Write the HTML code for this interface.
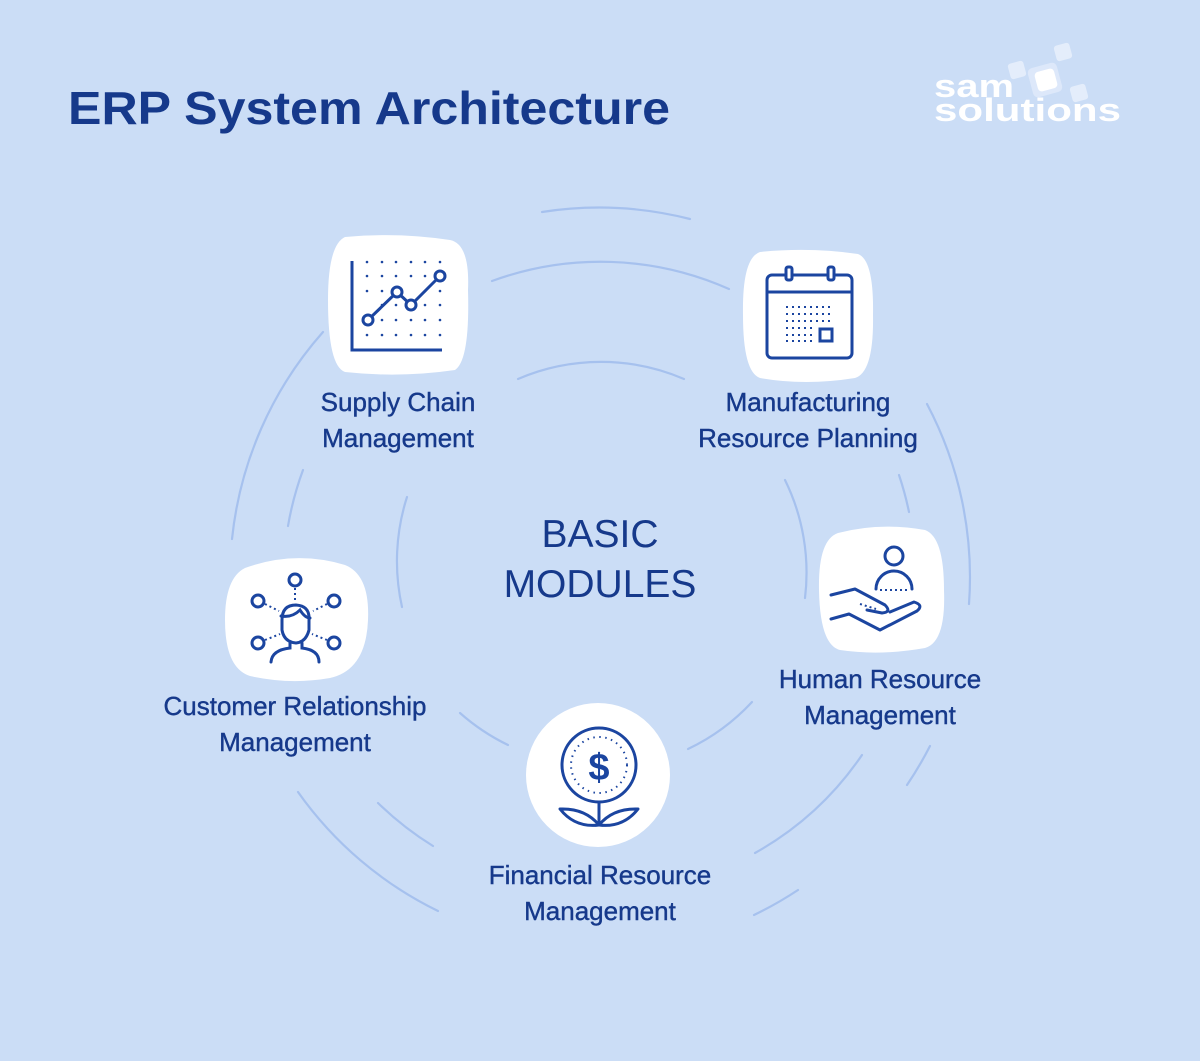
<!DOCTYPE html>
<html><head><meta charset="utf-8"><style>
html,body{margin:0;padding:0;background:#cbddf6;}
svg{display:block}
text{font-family:"Liberation Sans",sans-serif;fill:#16398b}
</style></head><body>
<svg width="1200" height="1061" viewBox="0 0 1200 1061" xmlns="http://www.w3.org/2000/svg">
<rect width="1200" height="1061" fill="#cbddf6"/>
<text x="68" y="124" font-size="46" font-weight="bold" textLength="602" lengthAdjust="spacingAndGlyphs">ERP System Architecture</text>
<!-- logo -->
<g fill="#e4edfb">
<rect x="1055" y="44" width="16" height="16" rx="3" transform="rotate(-15 1063 52)"/>
<rect x="1009" y="62" width="16" height="16" rx="3" transform="rotate(-15 1017 70)"/>
<rect x="1071" y="85" width="16" height="16" rx="3" transform="rotate(-15 1079 93)"/>
<rect x="1030" y="65" width="30" height="30" rx="5" fill="#dde8fa" transform="rotate(-15 1045 80)"/>
<rect x="1036" y="70" width="20" height="20" rx="4" fill="#fff" transform="rotate(-15 1046 80)"/>
</g>
<text x="934" y="97" font-size="32" font-weight="bold" style="fill:#fff" textLength="80" lengthAdjust="spacingAndGlyphs">sam</text>
<text x="934" y="121" font-size="32" font-weight="bold" style="fill:#fff" textLength="187" lengthAdjust="spacingAndGlyphs">solutions</text>
<!-- arcs -->
<g fill="none" stroke="#a6c1ee" stroke-width="2.2" stroke-linecap="round">
<path d="M542 212 A370 370 0 0 1 690 219"/>
<path d="M232 539 A370 370 0 0 1 323 332"/>
<path d="M927 404 A370 370 0 0 1 969 604"/>
<path d="M930 746 A370 370 0 0 1 907 785"/>
<path d="M798 890 A370 370 0 0 1 754 915"/>
<path d="M438 911 A370 370 0 0 1 298 792"/>
<path d="M492 281 A316 316 0 0 1 729 289"/>
<path d="M288 526 A316 316 0 0 1 303 470"/>
<path d="M899 475 A316 316 0 0 1 909 512"/>
<path d="M862 755 A316 316 0 0 1 755 853"/>
<path d="M433 846 A316 316 0 0 1 378 803"/>
<path d="M518 379 A210 210 0 0 1 684 379"/>
<path d="M402 607 A210 210 0 0 1 407 497"/>
<path d="M785 480 A210 210 0 0 1 805 598"/>
<path d="M752 702 A210 210 0 0 1 688 749"/>
<path d="M508 745 A210 210 0 0 1 460 713"/>
</g>
<!-- cards -->
<g fill="#fff">
<path d="M345 237 Q398 232 450 240 Q470 244 468 290 Q470 360 455 370 Q400 378 345 372 Q328 366 328 300 Q328 245 345 237Z"/>
<path d="M760 252 Q810 247 858 254 Q874 260 873 315 Q874 372 855 378 Q805 386 760 378 Q743 372 743 315 Q742 258 760 252Z"/>
<path d="M838 533 Q880 522 925 530 Q944 537 944 590 Q946 642 925 648 Q880 656 840 650 Q820 645 819 590 Q818 540 838 533Z"/>
<path d="M245 568 Q295 550 345 565 Q370 575 368 620 Q366 670 330 678 Q290 685 250 676 Q225 668 225 620 Q225 578 245 568Z"/>
<circle cx="598" cy="775" r="72"/>
</g>
<!-- icon: chart -->
<g stroke="#1b45a0" fill="none" stroke-width="3">
<path d="M352 261 V350 H442"/>
<polyline points="368,320 397,292 411,305 440,276"/>
</g>
<g fill="#fff" stroke="#1b45a0" stroke-width="3">
<circle cx="368" cy="320" r="5"/><circle cx="397" cy="292" r="5"/><circle cx="411" cy="305" r="5"/><circle cx="440" cy="276" r="5"/>
</g>
<g fill="#1b45a0">
<circle cx="367" cy="262" r="1.3"/><circle cx="382" cy="262" r="1.3"/><circle cx="396" cy="262" r="1.3"/><circle cx="411" cy="262" r="1.3"/><circle cx="425" cy="262" r="1.3"/><circle cx="440" cy="262" r="1.3"/>
<circle cx="367" cy="276" r="1.3"/><circle cx="382" cy="276" r="1.3"/><circle cx="396" cy="276" r="1.3"/><circle cx="411" cy="276" r="1.3"/><circle cx="425" cy="276" r="1.3"/>
<circle cx="367" cy="291" r="1.3"/><circle cx="382" cy="291" r="1.3"/><circle cx="425" cy="291" r="1.3"/><circle cx="440" cy="291" r="1.3"/>
<circle cx="382" cy="305" r="1.3"/><circle cx="396" cy="305" r="1.3"/><circle cx="425" cy="305" r="1.3"/><circle cx="440" cy="305" r="1.3"/>
<circle cx="382" cy="320" r="1.3"/><circle cx="396" cy="320" r="1.3"/><circle cx="411" cy="320" r="1.3"/><circle cx="425" cy="320" r="1.3"/><circle cx="440" cy="320" r="1.3"/>
<circle cx="367" cy="335" r="1.3"/><circle cx="382" cy="335" r="1.3"/><circle cx="396" cy="335" r="1.3"/><circle cx="411" cy="335" r="1.3"/><circle cx="425" cy="335" r="1.3"/><circle cx="440" cy="335" r="1.3"/>
</g>
<!-- calendar -->
<g stroke="#1b45a0" fill="none" stroke-width="3">
<rect x="767" y="275" width="85" height="83" rx="5"/>
<line x1="767" y1="292" x2="852" y2="292"/>
<rect x="786" y="267" width="6" height="13" rx="2" fill="#fff"/>
<rect x="828" y="267" width="6" height="13" rx="2" fill="#fff"/>
<rect x="820" y="329" width="12" height="12"/>
</g>
<g stroke="#1b45a0" stroke-width="2" stroke-dasharray="2 4" fill="none">
<line x1="786" y1="307" x2="834" y2="307"/><line x1="786" y1="314" x2="834" y2="314"/><line x1="786" y1="321" x2="834" y2="321"/><line x1="786" y1="328" x2="816" y2="328"/><line x1="786" y1="335" x2="816" y2="335"/><line x1="786" y1="341" x2="816" y2="341"/>
</g>
<!-- HR -->
<g stroke="#1b45a0" fill="none" stroke-width="3" stroke-linejoin="round" stroke-linecap="round">
<circle cx="894" cy="556" r="9"/>
<path d="M876 589 A18 18 0 0 1 912 589"/>
<path d="M831 595 L855 589 L885 605 Q892 612 882 613 L867 610"/>
<path d="M831 619 L849 614 L880 630 L917 611 Q924 605 914 602 L890 612"/>
</g>
<g stroke="#1b45a0" stroke-width="2" stroke-dasharray="2 3"><line x1="880" y1="590" x2="910" y2="590"/><line x1="860" y1="604" x2="876" y2="609"/></g>
<!-- CRM -->
<g stroke="#1b45a0" fill="none" stroke-width="3" stroke-linecap="round">
<circle cx="295" cy="580" r="6"/><circle cx="258" cy="601" r="6"/><circle cx="334" cy="601" r="6"/><circle cx="258" cy="643" r="6"/><circle cx="334" cy="643" r="6"/>
<path d="M282 620 Q282 605 296 605 Q310 606 309 620 L309 630 Q306 642 296 643 Q284 642 282 630Z"/>
<path d="M290 643 L290 648 Q272 650 271 662 M302 643 L302 648 Q319 650 319 662"/>
<path d="M281 616 Q292 618 300 610 Q305 618 310 618"/>
</g>
<g stroke="#1b45a0" stroke-width="2" stroke-dasharray="2 3"><line x1="295" y1="588" x2="295" y2="603"/><line x1="265" y1="604" x2="279" y2="611"/><line x1="327" y1="604" x2="313" y2="611"/><line x1="265" y1="640" x2="280" y2="634"/><line x1="327" y1="640" x2="312" y2="634"/></g>
<!-- Finance -->
<g stroke="#1b45a0" fill="none" stroke-width="3" stroke-linejoin="round">
<circle cx="599" cy="765" r="37"/>
<line x1="599" y1="802" x2="599" y2="825"/>
<path d="M599 825 Q585 808 560 809 Q575 828 599 825Z"/>
<path d="M599 825 Q613 808 638 809 Q623 828 599 825Z"/>
</g>
<circle cx="599" cy="765" r="28" stroke="#1b45a0" stroke-width="2" stroke-dasharray="1.5 4.5" fill="none"/>
<text x="599" y="780" font-size="38" font-weight="bold" text-anchor="middle" style="fill:#1b45a0">$</text>
<!-- labels -->
<g font-size="26" text-anchor="middle" stroke="#16398b" stroke-width="0.4">
<text x="398" y="411">Supply Chain</text><text x="398" y="447">Management</text>
<text x="808" y="411">Manufacturing</text><text x="808" y="447">Resource Planning</text>
<text x="880" y="688">Human Resource</text><text x="880" y="724">Management</text>
<text x="295" y="715">Customer Relationship</text><text x="295" y="751">Management</text>
<text x="600" y="884">Financial Resource</text><text x="600" y="920">Management</text>
</g>
<g font-size="39" text-anchor="middle">
<text x="600" y="547">BASIC</text><text x="600" y="597">MODULES</text>
</g>
</svg>
</body></html>
